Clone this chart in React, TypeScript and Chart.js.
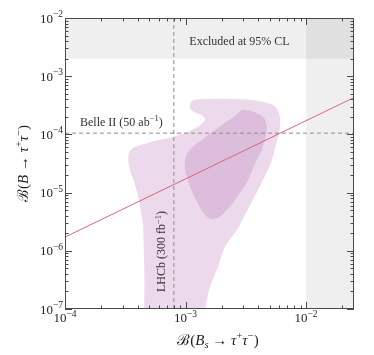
import { useEffect, useRef } from 'react';
import { Chart, registerables } from 'chart.js';

Chart.register(...registerables);

// Axis ranges
const xRange = [1e-4, 2.5e-2];
const yRange = [1e-7, 1e-2];
const xDecades = [-4, -3, -2];
const yDecades = [-7, -6, -5, -4, -3, -2];
const xTickExponents = ['−4', '−3', '−2'];
const yTickExponents = ['−7', '−6', '−5', '−4', '−3', '−2'];

// Excluded regions (95% CL)
const excludedBs = 1e-2; // B(Bs -> tau tau) upper limit
const excludedB = 2e-3; // B(B -> tau tau) upper limit

// Sensitivities
const belleII = 1.05e-4;
const lhcb = 8e-4;

// Red line (MFV relation)
const redLine: [number, number][] = [
  [1e-4, 1.72e-6],
  [2.5e-2, 4.3e-4],
];

// Light (outer) allowed region
const lightContour: [number, number][] = [
  [1.09e-3, 3.37e-4], [1.153e-3, 3.87e-4], [1.318e-3, 4.03e-4], [1.932e-3, 4.1e-4],
  [2.833e-3, 4.03e-4], [3.776e-3, 3.87e-4], [4.656e-3, 3.51e-4], [5.42e-3, 3.11e-4],
  [5.86e-3, 2.55e-4], [6.08e-3, 1.94e-4], [6.08e-3, 1.36e-4], [5.86e-3, 9.31e-5],
  [5.22e-3, 3.67e-5], [4.84e-3, 2.47e-5], [4.4e-3, 1.67e-5], [4.0e-3, 1.12e-5],
  [3.63e-3, 7.55e-6], [3.118e-3, 4.17e-6], [2.675e-3, 2.3e-6], [2.128e-3, 1.18e-6],
  [1.861e-3, 5.33e-7], [1.597e-3, 2.42e-7], [1.452e-3, 1.0e-7], [1.42e-3, 8e-8],
  [4.53e-4, 8e-8], [4.53e-4, 1e-7], [4.57e-4, 2.62e-7], [4.53e-4, 6.5e-7],
  [4.48e-4, 1.55e-6], [4.44e-4, 2.81e-6], [4.27e-4, 4.7e-6], [4.04e-4, 8.85e-6],
  [3.74e-4, 1.54e-5], [3.46e-4, 2.47e-5], [3.35e-4, 3.67e-5], [3.4e-4, 4.85e-5],
  [3.67e-4, 5.9e-5], [4.19e-4, 6.52e-5], [5.37e-4, 7.64e-5], [6.76e-4, 8.43e-5],
  [8.18e-4, 9.31e-5], [9.91e-4, 1.07e-4], [1.199e-3, 1.28e-4], [1.371e-3, 1.53e-4],
  [1.452e-3, 1.86e-4], [1.371e-3, 2.14e-4], [1.222e-3, 2.36e-4], [1.11e-3, 2.66e-4],
  [1.08e-3, 3.0e-4],
];

// Dark (inner) allowed region
const darkContour: [number, number][] = [
  [3.0e-3, 2.66e-4], [3.43e-3, 2.55e-4], [4.15e-3, 2.18e-4], [4.57e-3, 1.79e-4],
  [4.72e-3, 1.37e-4], [4.656e-3, 9.89e-5], [4.48e-3, 7.2e-5], [4.236e-3, 5.05e-5],
  [3.9e-3, 3.67e-5], [3.565e-3, 2.38e-5], [3.219e-3, 1.48e-5], [2.833e-3, 9.95e-6],
  [2.478e-3, 6.7e-6], [2.168e-3, 4.89e-6], [1.932e-3, 3.9e-6], [1.725e-3, 3.52e-6],
  [1.597e-3, 3.56e-6], [1.452e-3, 4.17e-6], [1.35e-3, 5.08e-6], [1.222e-3, 7.55e-6],
  [1.12e-3, 1.12e-5], [1.028e-3, 1.8e-5], [9.91e-4, 2.47e-5], [9.91e-4, 3.4e-5],
  [1.023e-3, 4.48e-5], [1.132e-3, 5.9e-5], [1.318e-3, 7.59e-5], [1.597e-3, 1.03e-4],
  [1.932e-3, 1.37e-4], [2.254e-3, 1.72e-4], [2.66e-3, 2.18e-4], [2.833e-3, 2.51e-4],
];

const FONT = '"Liberation Serif", "DejaVu Serif", serif';

type Seg = { t: string; s: number; dy?: number; it?: boolean };

function segFont(s: Seg) {
  return `${s.it ? 'italic ' : ''}${s.s}px ${FONT}`;
}

function drawRich(
  ctx: CanvasRenderingContext2D,
  segs: Seg[],
  x: number,
  y: number,
  align: 'left' | 'center' | 'right',
  rot = 0,
) {
  ctx.save();
  ctx.translate(x, y);
  ctx.rotate(rot);
  ctx.textAlign = 'left';
  ctx.textBaseline = 'alphabetic';
  let w = 0;
  for (const s of segs) {
    ctx.font = segFont(s);
    w += ctx.measureText(s.t).width;
  }
  let cx = align === 'left' ? 0 : align === 'center' ? -w / 2 : -w;
  for (const s of segs) {
    ctx.font = segFont(s);
    ctx.fillText(s.t, cx, s.dy || 0);
    cx += ctx.measureText(s.t).width;
  }
  ctx.restore();
}

const decoPlugin = {
  id: 'deco',
  afterDraw(chart: any) {
    const { ctx, chartArea: a, scales } = chart;
    const xs = scales.x;
    const ys = scales.y;
    ctx.save();
    // frame
    ctx.strokeStyle = '#4a4a4a';
    ctx.lineWidth = 1;
    ctx.strokeRect(a.left + 0.5, a.top + 0.5, a.right - a.left - 1, a.bottom - a.top - 1);

    // ticks
    ctx.beginPath();
    for (const d of xDecades) {
      for (let k = 1; k <= 9; k++) {
        const v = k * Math.pow(10, d);
        if (v < xRange[0] * 0.999 || v > xRange[1] * 1.001) continue;
        const px = Math.round(xs.getPixelForValue(v)) + 0.5;
        const len = k === 1 ? 7 : 3.5;
        ctx.moveTo(px, a.bottom);
        ctx.lineTo(px, a.bottom - len);
        ctx.moveTo(px, a.top);
        ctx.lineTo(px, a.top + len);
      }
    }
    for (const d of yDecades) {
      for (let k = 1; k <= 9; k++) {
        const v = k * Math.pow(10, d);
        if (v < yRange[0] * 0.999 || v > yRange[1] * 1.001) continue;
        const py = Math.round(ys.getPixelForValue(v)) + 0.5;
        const len = k === 1 ? 7 : 3.5;
        ctx.moveTo(a.left, py);
        ctx.lineTo(a.left + len, py);
        ctx.moveTo(a.right, py);
        ctx.lineTo(a.right - len, py);
      }
    }
    ctx.stroke();

    // tick labels
    ctx.fillStyle = '#262626';
    xDecades.forEach((d, i) => {
      const px = xs.getPixelForValue(Math.pow(10, d));
      drawRich(ctx, [{ t: '10', s: 13 }, { t: xTickExponents[i], s: 9.5, dy: -5.5 }], px, a.bottom + 13, 'center');
    });
    yDecades.forEach((d, i) => {
      const py = ys.getPixelForValue(Math.pow(10, d));
      drawRich(ctx, [{ t: '10', s: 13 }, { t: yTickExponents[i], s: 9.5, dy: -5.5 }], a.left - 2, py + 4.5, 'right');
    });

    // axis titles
    ctx.fillStyle = '#1e1e1e';
    drawRich(
      ctx,
      [
        { t: 'ℬ', s: 15 },
        { t: '(', s: 15 },
        { t: 'B', s: 15, it: true },
        { t: 's', s: 10.5, dy: 3, it: true },
        { t: ' → ', s: 15 },
        { t: 'τ', s: 15, it: true },
        { t: '+', s: 10.5, dy: -6 },
        { t: 'τ', s: 15, it: true },
        { t: '−', s: 10.5, dy: -6 },
        { t: ')', s: 15 },
      ],
      218,
      345,
      'center',
    );
    drawRich(
      ctx,
      [
        { t: 'ℬ', s: 15 },
        { t: '(', s: 15 },
        { t: 'B', s: 15, it: true },
        { t: ' → ', s: 15 },
        { t: 'τ', s: 15, it: true },
        { t: '+', s: 10.5, dy: -6 },
        { t: 'τ', s: 15, it: true },
        { t: '−', s: 10.5, dy: -6 },
        { t: ')', s: 15 },
      ],
      28,
      (a.top + a.bottom) / 2,
      'center',
      -Math.PI / 2,
    );

    // annotations
    ctx.fillStyle = '#333333';
    drawRich(ctx, [{ t: 'Excluded at 95% CL', s: 12 }], 239.5, 44.5, 'center');
    drawRich(
      ctx,
      [
        { t: 'Belle II (50 ab', s: 12 },
        { t: '−1', s: 8.5, dy: -4.5 },
        { t: ')', s: 12 },
      ],
      80,
      125.5,
      'left',
    );
    drawRich(
      ctx,
      [
        { t: 'LHCb (300 fb', s: 12 },
        { t: '−1', s: 8.5, dy: -4.5 },
        { t: ')', s: 12 },
      ],
      165,
      251.5,
      'center',
      -Math.PI / 2,
    );
    ctx.restore();
  },
};

const pts = (arr: [number, number][]) => arr.map(([x, y]) => ({ x, y }));

export default function App() {
  const ref = useRef<HTMLCanvasElement | null>(null);
  useEffect(() => {
    document.body.style.margin = '0';
    const canvas = ref.current;
    if (!canvas) return;
    const none = 'rgba(0,0,0,0)';
    const chart = new Chart(canvas, {
      type: 'scatter',
      data: {
        datasets: [
          {
            data: pts(redLine),
            showLine: true,
            borderColor: '#da6479',
            borderWidth: 1,
            pointRadius: 0,
            order: 0,
          },
          {
            data: pts([
              [lhcb, yRange[0]],
              [lhcb, yRange[1]],
            ]),
            showLine: true,
            borderColor: '#8e8e8e',
            borderDash: [4, 3],
            borderWidth: 1,
            pointRadius: 0,
            order: 1,
          },
          {
            data: pts([
              [xRange[0], belleII],
              [xRange[1], belleII],
            ]),
            showLine: true,
            borderColor: '#8e8e8e',
            borderDash: [4, 3],
            borderWidth: 1,
            pointRadius: 0,
            order: 1,
          },
          {
            data: pts(darkContour),
            showLine: true,
            fill: 'shape',
            backgroundColor: '#dcbddc',
            borderColor: none,
            borderWidth: 0,
            pointRadius: 0,
            tension: 0.35,
            order: 2,
          },
          {
            data: pts(lightContour),
            showLine: true,
            fill: 'shape',
            backgroundColor: '#ecd9ec',
            borderColor: none,
            borderWidth: 0,
            pointRadius: 0,
            tension: 0.3,
            order: 3,
          },
          {
            data: pts([
              [xRange[0], excludedB],
              [xRange[1], excludedB],
              [xRange[1], yRange[1]],
              [xRange[0], yRange[1]],
            ]),
            showLine: true,
            fill: 'shape',
            backgroundColor: 'rgba(0,0,0,0.064)',
            borderColor: none,
            borderWidth: 0,
            pointRadius: 0,
            order: 4,
          },
          {
            data: pts([
              [excludedBs, yRange[0]],
              [xRange[1], yRange[0]],
              [xRange[1], yRange[1]],
              [excludedBs, yRange[1]],
            ]),
            showLine: true,
            fill: 'shape',
            backgroundColor: 'rgba(0,0,0,0.064)',
            borderColor: none,
            borderWidth: 0,
            pointRadius: 0,
            order: 4,
          },
        ] as any,
      },
      options: {
        animation: false,
        responsive: false,
        events: [],
        layout: { padding: { left: 65, right: 20, top: 18, bottom: 46 } },
        scales: {
          x: { type: 'logarithmic', min: xRange[0], max: xRange[1], display: false },
          y: { type: 'logarithmic', min: yRange[0], max: yRange[1], display: false },
        },
        plugins: {
          legend: { display: false },
          tooltip: { enabled: false },
        },
      },
      plugins: [decoPlugin],
    });
    return () => chart.destroy();
  }, []);
  return (
    <div style={{ width: 374, height: 355 }}>
      <canvas ref={ref} width={374} height={355} style={{ display: 'block' }} />
    </div>
  );
}
